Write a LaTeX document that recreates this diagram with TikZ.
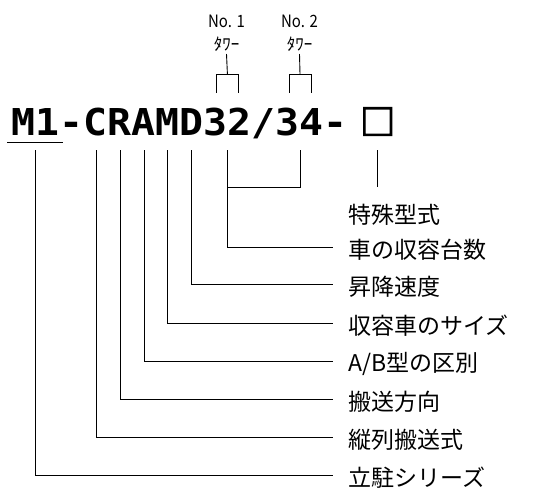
\documentclass[tikz,border=0pt]{standalone}
\usepackage{fontspec}
\newfontfamily\jp{Noto Sans CJK JP}
\newfontfamily\jpsq[FakeBold=4]{Noto Sans CJK JP}
\newfontfamily\mono{DejaVu Sans Mono}
\tikzset{
  conn/.style={draw=black, line width=0.9pt},
  lab/.style={anchor=west, inner xsep=15pt, inner ysep=0pt, font=\jp\fontsize{23}{23}\selectfont},
  small/.style={inner sep=0pt, font=\jp\fontsize{17}{17}\selectfont},
}
\begin{document}
\begin{tikzpicture}[x=1pt,y=-1pt]
\useasboundingbox (0,0) rectangle (545,488);
% main code
\node[anchor=base west, inner sep=0pt, font=\mono\bfseries\fontsize{39.8}{40}\selectfont] (code) at (11.76,135) {\scalebox{1}[0.93]{M1-CRAMD32/34-}};
\node[inner sep=0pt, font=\jpsq\fontsize{35}{35}\selectfont] (sq) at (377.7,121.5) {□};
\draw[line width=1.3pt] (7,142.7) coordinate (ulA) -- (63,142.7) coordinate (ulB);
% tower labels
\node[small] (no1) at (226.5,21) {\scalebox{0.88}[1]{No. 1}};
\node[small] (tw1) at (226.5,44) {ﾀﾜｰ};
\node[small] (no2) at (299.5,21) {\scalebox{0.88}[1]{No. 2}};
\node[small] (tw2) at (299.5,44) {ﾀﾜｰ};
\coordinate (b1) at (227.4,74);
\coordinate (b2) at (300,74);
\draw[conn] (tw1.south |- 0,54) -- (b1);
\draw[conn] (216.7,92.7) -- (216.7,74) -- (238,74) -- (238,92.7);
\draw[conn] (tw2.south |- 0,54) -- (b2);
\draw[conn] (289,92.7) -- (289,74) -- (311,74) -- (311,92.7);
% stem tops
\coordinate (sM) at (35.7,150);
\coordinate (sC) at (96.7,150);
\coordinate (sR) at (120.3,150);
\coordinate (sA) at (144,150);
\coordinate (sMM) at (167.3,150);
\coordinate (sD) at (191,150);
\coordinate (s32) at (227.7,150);
\coordinate (s34) at (300,150);
\coordinate (sSq) at (377.7,150);
\coordinate (jn) at (227.7,187.3);
\coordinate (sqEnd) at (377.7,187.3);
% labels
\node[lab] (l0) at (333,215.2) {特殊型式};
\node[lab] (l1) at (333,250.2) {車の収容台数};
\node[lab] (l2) at (333,286.8) {昇降速度};
\node[lab] (l3) at (333,325.8) {収容車のサイズ};
\node[lab] (l4) at (333,363.5) {A/B型の区別};
\node[lab] (l5) at (333,401.8) {搬送方向};
\node[lab] (l6) at (333,439.5) {縦列搬送式};
\node[lab] (l7) at (333,477.5) {立駐シリーズ};
% connectors
\draw[conn] (sSq) -- (sqEnd);
\draw[conn] (s34) |- (jn);
\draw[conn] (s32) |- ([yshift=2.5pt]l1.west);
\draw[conn] (sD) |- ([yshift=2.5pt]l2.west);
\draw[conn] (sMM) |- ([yshift=2.5pt]l3.west);
\draw[conn] (sA) |- ([yshift=2.5pt]l4.west);
\draw[conn] (sR) |- ([yshift=2.5pt]l5.west);
\draw[conn] (sC) |- ([yshift=2.5pt]l6.west);
\draw[conn] (sM) |- ([yshift=2.5pt]l7.west);
\end{tikzpicture}
\end{document}
